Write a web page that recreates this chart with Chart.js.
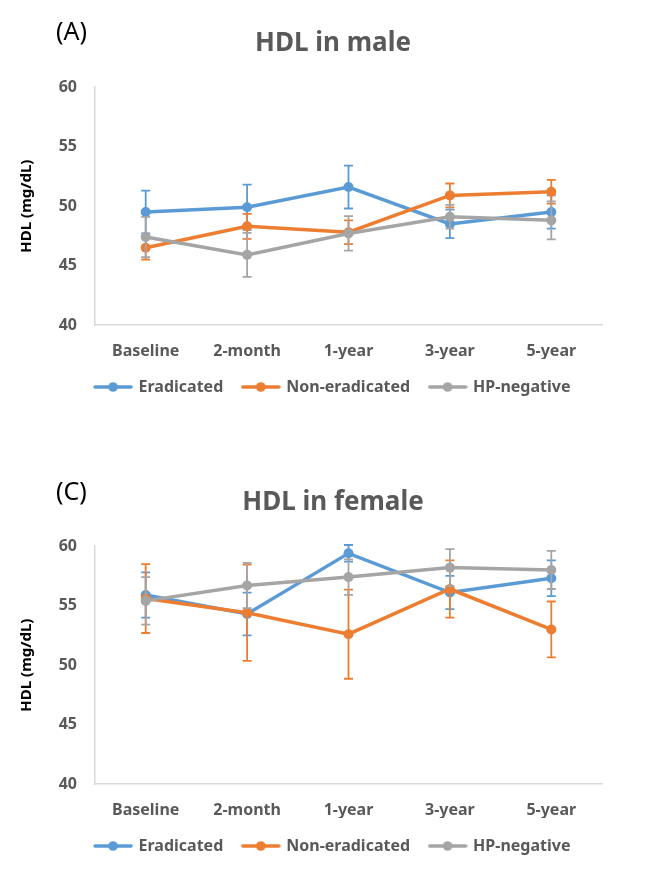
<!DOCTYPE html>
<html>
<head>
<meta charset="utf-8">
<script src="https://cdn.jsdelivr.net/npm/chart.js@4.4.1/dist/chart.umd.min.js"></script>
<style>
  html, body { margin: 0; padding: 0; background: #ffffff; }
  body { width: 650px; height: 890px; position: relative; overflow: hidden; font-family: 'Noto Sans', sans-serif; }
  .panel { position: absolute; left: 0; width: 650px; height: 431px; }
  .tag { position: absolute; left: 56px; font-size: 25px; color: #000; font-family: 'Noto Sans', sans-serif; line-height: 1; }
</style>
</head>
<body>
<div class="panel" style="top:0px"><canvas id="c1" width="650" height="431"></canvas></div>
<div class="panel" style="top:459px"><canvas id="c2" width="650" height="431"></canvas></div>
<div class="tag" style="top:18px">(A)</div>
<div class="tag" style="top:478px">(C)</div>
<script>
// ---------- data ----------
const categories = ['Baseline', '2-month', '1-year', '3-year', '5-year'];
const seriesNames = ['Eradicated', 'Non-eradicated', 'HP-negative'];
const yTicks = [40, 45, 50, 55, 60];

// Male (A)
const maleEradicated      = [49.5, 49.9, 51.6, 48.5, 49.5];
const maleEradicatedErr   = [1.8, 1.9, 1.8, 1.2, 1.4];
const maleNonEradicated   = [46.5, 48.3, 47.8, 50.9, 51.2];
const maleNonEradicatedErr= [1.0, 1.05, 1.0, 1.0, 1.0];
const maleHPNegative      = [47.4, 45.9, 47.7, 49.1, 48.8];
const maleHPNegativeErr   = [1.7, 1.85, 1.45, 1.0, 1.6];

// Female (C)
const femaleEradicated      = [55.9, 54.3, 59.4, 56.1, 57.3];
const femaleEradicatedErr   = [1.9, 1.8, 0.7, 1.4, 1.5];
const femaleNonEradicated   = [55.6, 54.4, 52.6, 56.4, 53.0];
const femaleNonEradicatedErr= [2.9, 4.05, 3.75, 2.4, 2.35];
const femaleHPNegative      = [55.4, 56.7, 57.4, 58.2, 58.0];
const femaleHPNegativeErr   = [2.0, 1.9, 1.5, 1.55, 1.6];

// ---------- styling ----------
const colors = ['#5B9BD5', '#ED7D31', '#A5A5A5'];
const textColor = '#595959';
const axisColor = '#D9D9D9';
const FONT = "'Noto Sans', sans-serif";

function legendImage(color) {
  const c = document.createElement('canvas');
  c.width = 40; c.height = 12;
  const g = c.getContext('2d');
  g.strokeStyle = color; g.lineWidth = 3.5; g.lineCap = 'round';
  g.beginPath(); g.moveTo(2, 6); g.lineTo(38, 6); g.stroke();
  g.fillStyle = color;
  g.beginPath(); g.arc(20, 6, 4.8, 0, Math.PI * 2); g.fill();
  return c;
}
const legendImgs = colors.map(legendImage);

const errorBarPlugin = {
  id: 'errorBars',
  afterDatasetDraw(chart, args) {
    const ds = chart.data.datasets[args.index];
    const errs = chart.options.plugins.errorBars.errors[args.index];
    const y = chart.scales.y;
    const ctx = chart.ctx;
    ctx.save();
    ctx.strokeStyle = ds.borderColor;
    ctx.lineWidth = 1.8;
    args.meta.data.forEach((pt, i) => {
      const v = ds.data[i], e = errs[i];
      const yt = y.getPixelForValue(v + e), yb = y.getPixelForValue(v - e);
      const x = pt.x, cap = 4.5;
      ctx.beginPath();
      ctx.moveTo(x, yt); ctx.lineTo(x, yb);
      ctx.moveTo(x - cap, yt); ctx.lineTo(x + cap, yt);
      ctx.moveTo(x - cap, yb); ctx.lineTo(x + cap, yb);
      ctx.stroke();
    });
    ctx.restore();
  }
};

function makeChart(id, title, series, errors) {
  const datasets = series.map((d, i) => ({
    label: seriesNames[i],
    data: d,
    yAxisID: 'y',
    borderColor: colors[i],
    backgroundColor: colors[i],
    borderWidth: 3.5,
    pointRadius: 5,
    pointHoverRadius: 5,
    pointBorderWidth: 0,
    tension: 0,
    clip: false,
    order: 2 - i
  }));
  return new Chart(document.getElementById(id), {
    type: 'line',
    data: { labels: categories, datasets },
    plugins: [errorBarPlugin],
    options: {
      responsive: false,
      animation: false,
      events: [],
      layout: { padding: { left: 16, right: 0, top: 0, bottom: 26 } },
      scales: {
        x: {
          offset: true,
          grid: { display: false, drawTicks: false },
          border: { display: true, color: axisColor, width: 1.5 },
          ticks: { color: textColor, font: { family: FONT, size: 16, weight: 'bold' }, padding: 17, maxRotation: 0 },
          afterFit(s) { s.height = 34; }
        },
        y: {
          min: 40, max: 60,
          afterBuildTicks(s) { s.ticks = yTicks.map(v => ({ value: v })); },
          grid: { display: false, drawTicks: false },
          border: { display: true, color: axisColor, width: 1.5 },
          ticks: { color: textColor, font: { family: FONT, size: 16, weight: 'bold' }, padding: 18 },
          title: { display: true, text: 'HDL (mg/dL)', color: '#000', font: { family: FONT, size: 15, weight: 'bold' }, padding: { top: 2, bottom: 0 } },
          afterFit(s) { s.width = 79; }
        },
        yRight: {
          position: 'right',
          display: true,
          grid: { display: false, drawTicks: false },
          border: { display: false },
          ticks: { display: false },
          afterFit(s) { s.width = 48; }
        }
      },
      plugins: {
        errorBars: { errors },
        title: {
          display: true, text: title, color: textColor,
          font: { family: FONT, size: 26, weight: 'bold' },
          padding: { top: 28, bottom: 28 }
        },
        legend: {
          position: 'bottom',
          labels: {
            usePointStyle: true,
            pointStyleWidth: 35,
            padding: 20,
            color: textColor,
            font: { family: FONT, size: 16, weight: 'bold' },
            generateLabels(chart) {
              return chart.data.datasets.map((ds, i) => ({
                text: ds.label,
                pointStyle: legendImgs[i],
                fillStyle: colors[i],
                strokeStyle: colors[i],
                lineWidth: 0,
                fontColor: textColor,
                hidden: false,
                datasetIndex: i
              }));
            }
          }
        },
        tooltip: { enabled: false }
      }
    }
  });
}

makeChart('c1', 'HDL in male',
  [maleEradicated, maleNonEradicated, maleHPNegative],
  [maleEradicatedErr, maleNonEradicatedErr, maleHPNegativeErr]);
makeChart('c2', 'HDL in female',
  [femaleEradicated, femaleNonEradicated, femaleHPNegative],
  [femaleEradicatedErr, femaleNonEradicatedErr, femaleHPNegativeErr]);
</script>
</body>
</html>
